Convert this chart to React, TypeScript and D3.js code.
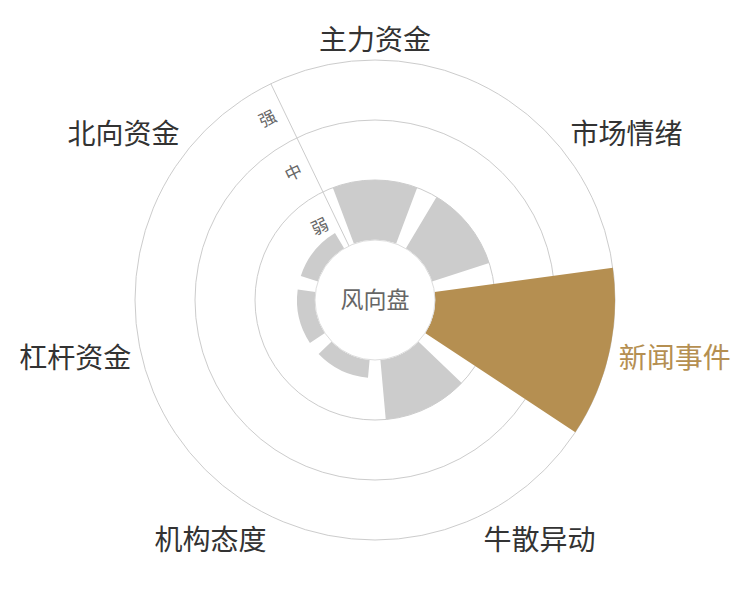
import { useEffect, useRef } from 'react';
import * as d3 from 'd3';

const categories: string[] = ['主力资金', '市场情绪', '新闻事件', '牛散异动', '机构态度', '杠杆资金', '北向资金'];
const values: number[] = [1, 1, 3, 1, 0.3, 0.3, 0.3];
const levels: string[] = ['弱', '中', '强'];
const highlight: string = '新闻事件';
const centerTitle: string = '风向盘';

export default function App() {
    const ref = useRef<SVGSVGElement>(null);

    useEffect(() => {
        const width = 750,
            height = 600;
        const cx = 375,
            cy = 300;
        const innerR = 60,
            outerR = 240;
        const gold = '#b58f51';
        const font = '"Noto Sans CJK SC", "Noto Sans", sans-serif';

        const svg = d3.select(ref.current).attr('width', width).attr('height', height);
        svg.selectAll('*').remove();
        const g = svg.append('g').attr('transform', `translate(${cx},${cy})`);

        const step = (2 * Math.PI) / categories.length;
        // 각 카테고리를 12시 방향부터 시계방향으로
        const angle = d3
            .scaleBand<string>()
            .domain(categories)
            .range([-step / 2, 2 * Math.PI - step / 2])
            .paddingInner(0.2)
            .paddingOuter(0.1);
        const radius = d3.scaleLinear().domain([0, levels.length]).range([innerR, outerR]);

        // rings
        g.selectAll('circle.ring')
            .data(d3.range(1, levels.length + 1))
            .join('circle')
            .attr('class', 'ring')
            .attr('r', (d) => radius(d))
            .attr('fill', 'none')
            .attr('stroke', '#cccccc');

        const arc = d3
            .arc<string>()
            .innerRadius(innerR)
            .outerRadius((d) => radius(values[categories.indexOf(d)]))
            .startAngle((d) => angle(d)!)
            .endAngle((d) => angle(d)! + angle.bandwidth());

        g.selectAll('path.bar')
            .data(categories)
            .join('path')
            .attr('class', 'bar')
            .attr('d', (d) => arc(d)!)
            .attr('fill', (d) => (d === highlight ? gold : '#cccccc'));

        // radius axis line
        const a0 = -step / 2;
        g.append('line')
            .attr('x1', innerR * Math.sin(a0))
            .attr('y1', -innerR * Math.cos(a0))
            .attr('x2', outerR * Math.sin(a0))
            .attr('y2', -outerR * Math.cos(a0))
            .attr('stroke', '#cccccc');

        const deg = (a0 * 180) / Math.PI;
        g.selectAll('text.level')
            .data(levels)
            .join('text')
            .attr('class', 'level')
            .attr('transform', (d, i) => `rotate(${deg}) translate(-18,${-radius(i + 0.5)})`)
            .attr('text-anchor', 'middle')
            .attr('dy', '0.35em')
            .attr('font-family', font)
            .attr('font-size', 17)
            .attr('fill', '#666')
            .text((d) => d);

        // center
        g.append('circle').attr('r', innerR).attr('fill', '#fff').attr('stroke', '#dddddd');
        g.append('text')
            .attr('text-anchor', 'middle')
            .attr('dy', '0.35em')
            .attr('font-family', font)
            .attr('font-size', 23)
            .attr('fill', '#666')
            .text(centerTitle);

        // category labels
        const labelR = outerR + 10;
        g.selectAll('text.cat')
            .data(categories)
            .join('text')
            .attr('class', 'cat')
            .each(function (d) {
                const a = angle(d)! + angle.bandwidth() / 2;
                const s = Math.sin(a),
                    c = Math.cos(a);
                const anchor = Math.abs(s) < 0.05 ? 'middle' : s > 0 ? 'start' : 'end';
                const dy = c > 0.5 ? '0em' : c < -0.5 ? '0.9em' : '0.45em';
                d3.select(this)
                    .attr('x', labelR * s)
                    .attr('y', -labelR * c)
                    .attr('dy', dy)
                    .attr('text-anchor', anchor);
            })
            .attr('font-family', font)
            .attr('font-size', 28)
            .attr('fill', (d) => (d === highlight ? gold : '#333'))
            .text((d) => d);
    }, []);

    return <svg ref={ref} style={{ position: 'absolute', left: 0, top: 0 }} />;
}
